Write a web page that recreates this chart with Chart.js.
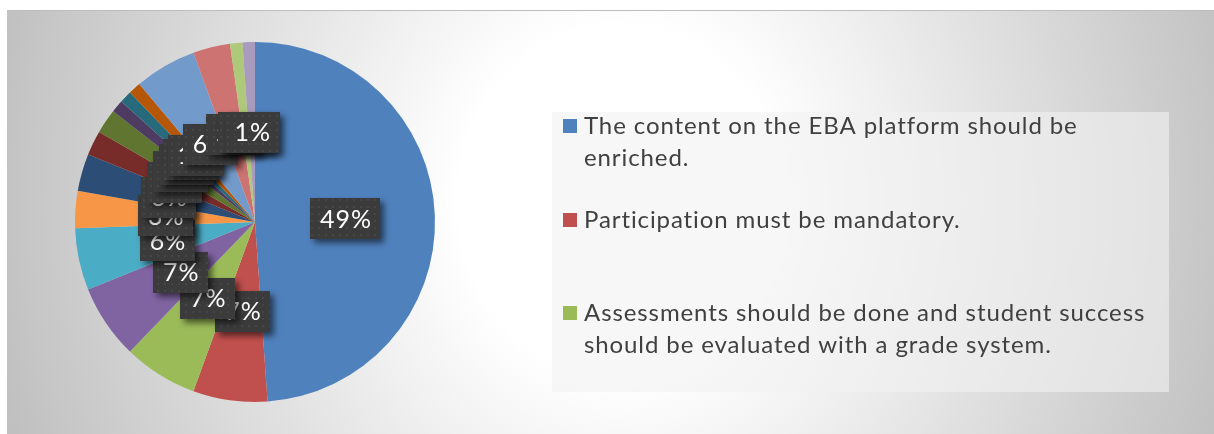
<!DOCTYPE html>
<html>
<head>
<meta charset="utf-8">
<script src="https://cdn.jsdelivr.net/npm/chart.js@4.4.1/dist/chart.umd.min.js"></script>
<style>
    html, body { margin: 0; padding: 0; background: #fff; }
    #wrap { position: relative; width: 1214px; height: 434px; overflow: hidden; }
    #panel {
        position: absolute; left: 7px; top: 10px; width: 1207px; height: 424px;
        border-top: 1px solid #bdbdbd;
        background: radial-gradient(ellipse 640px 700px at 613px 190px, #ffffff 25%, #c0c0c0 100%);
    }
    #chart { position: absolute; left: 0; top: 0; }
</style>
</head>
<body>
<div id="wrap">
    <div id="panel"></div>
    <canvas id="chart" width="1214" height="434"></canvas>
</div>
<script>
// Dữ liệu: số câu trả lời cho từng ý kiến (tổng 90)
const labels = [
    ['The content on the EBA platform should be', 'enriched.'],
    ['Participation must be mandatory.'],
    ['Assessments should be done and student success', 'should be evaluated with a grade system.'],
    '', '', '', '', '', '', '', '', '', '', '', '', ''
];
const counts = [44, 6, 6, 6, 5, 3, 3, 2, 2, 1, 1, 1, 5, 3, 1, 1];

// Màu kiểu Office
const colors = [
    '#4F81BD', '#C0504D', '#9BBB59', '#8064A2', '#4BACC6', '#F79646',
    '#2C4D75', '#772C2A', '#5F7530', '#4D3B62', '#276A7C', '#B65708',
    '#729ACA', '#CD7371', '#AFC97A', '#A99BBD'
];

// chỉ 3 mục chú thích hiện ra (phần còn lại bị cắt)
const legendShown = 3;
const FONT = 'Lato, "Open Sans", sans-serif';

// Nền hộp nhãn có chấm nhỏ
function makePattern(ctx) {
    const c = document.createElement('canvas');
    c.width = 7; c.height = 7;
    const p = c.getContext('2d');
    p.fillStyle = '#3b3b3b';
    p.fillRect(0, 0, 7, 7);
    p.fillStyle = '#464646';
    p.fillRect(3, 3, 2, 2);
    return ctx.createPattern(c, 'repeat');
}

const dataLabelPlugin = {
    id: 'boxLabels',
    afterDatasetsDraw(chart) {
        const ctx = chart.ctx;
        const meta = chart.getDatasetMeta(0);
        const values = chart.data.datasets[0].data;
        const total = values.reduce((a, b) => a + b, 0);
        const pattern = makePattern(ctx);
        ctx.save();
        ctx.font = '25px ' + FONT;
        ctx.letterSpacing = '1px';
        ctx.textAlign = 'center';
        ctx.textBaseline = 'middle';
        meta.data.forEach((arc, i) => {
            const p = arc.getProps(['x', 'y', 'startAngle', 'endAngle', 'outerRadius'], true);
            const mid = (p.startAngle + p.endAngle) / 2;
            const r = p.outerRadius * 0.5;
            const cx = p.x + Math.cos(mid) * r;
            const cy = p.y + Math.sin(mid) * r;
            const text = Math.round(values[i] / total * 100) + '%';
            const w = ctx.measureText(text).width + 18;
            const h = 41;
            ctx.save();
            ctx.shadowColor = 'rgba(0,0,0,0.55)';
            ctx.shadowBlur = 6;
            ctx.shadowOffsetX = 4;
            ctx.shadowOffsetY = 4;
            ctx.fillStyle = pattern;
            ctx.fillRect(Math.round(cx - w / 2), Math.round(cy - h / 2), Math.round(w), h);
            ctx.restore();
            ctx.fillStyle = '#ffffff';
            ctx.fillText(text, cx + 1, cy + 1);
        });
        ctx.restore();
    }
};

const legendPlugin = {
    id: 'sideLegend',
    afterDraw(chart) {
        const ctx = chart.ctx;
        const ds = chart.data.datasets[0];
        // vị trí hộp chú thích và đường chân chữ của từng mục
        const box = { x: 552, y: 112, w: 617, h: 280 };
        const baselines = [134, 228, 321];
        const lineGap = 32;
        ctx.save();
        ctx.fillStyle = 'rgba(242,242,242,0.6)';
        ctx.fillRect(box.x, box.y, box.w, box.h);
        ctx.font = '24px ' + FONT;
        ctx.letterSpacing = '0.9px';
        ctx.textBaseline = 'alphabetic';
        for (let i = 0; i < legendShown; i++) {
            const lines = [].concat(chart.data.labels[i]);
            const base = baselines[i];
            ctx.fillStyle = ds.backgroundColor[i];
            ctx.fillRect(563, base - 15, 14, 14);
            ctx.fillStyle = '#404040';
            lines.forEach((ln, j) => ctx.fillText(ln, 584, base + j * lineGap));
        }
        ctx.restore();
    }
};

new Chart(document.getElementById('chart'), {
    type: 'pie',
    data: {
        labels: labels,
        datasets: [{
            data: counts,
            backgroundColor: colors,
            borderWidth: 0
        }]
    },
    options: {
        responsive: false,
        animation: false,
        events: [],
        layout: { padding: { left: 75, top: 42, right: 779, bottom: 32 } },
        plugins: {
            legend: { display: false },
            tooltip: { enabled: false }
        }
    },
    plugins: [dataLabelPlugin, legendPlugin]
});
</script>
</body>
</html>
